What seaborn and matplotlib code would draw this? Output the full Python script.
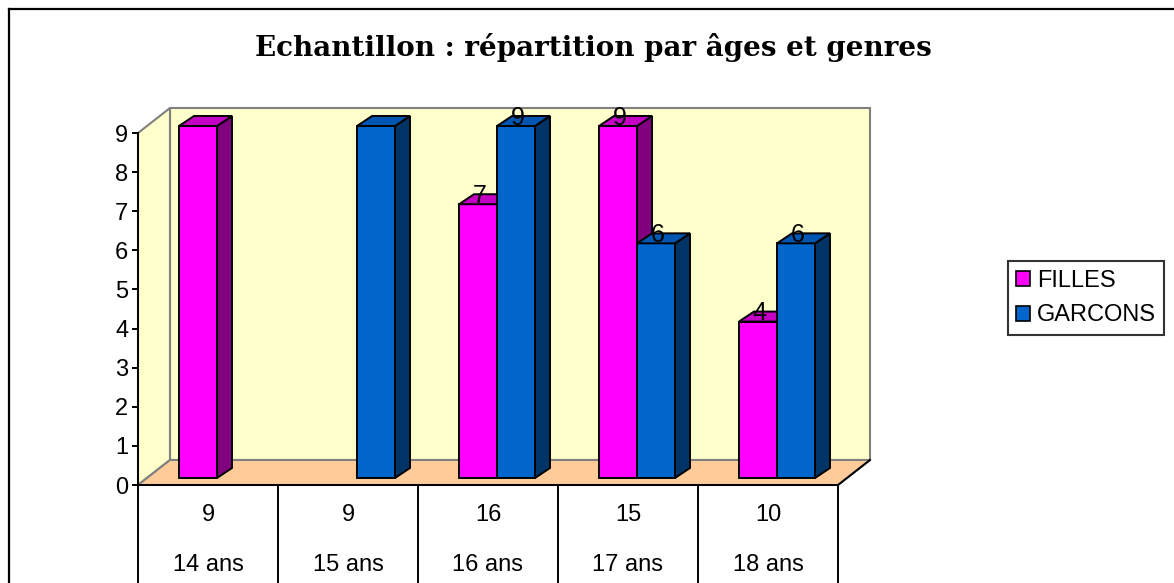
import numpy as np
import pandas as pd
import matplotlib
matplotlib.use('Agg')
import matplotlib.pyplot as plt
from matplotlib.patches import Polygon, Patch
from matplotlib.lines import Line2D
import seaborn as sns

# data
ages = ['14 ans', '15 ans', '16 ans', '17 ans', '18 ans']
genres = ['FILLES', 'GARCONS']
filles = [9, 0, 7, 9, 4]
garcons = [0, 9, 9, 6, 6]
labelled_ages = ['16 ans', '17 ans', '18 ans']   # bars that carry a value label
totals = [f + g for f, g in zip(filles, garcons)]
yticks = list(range(0, 10))

df = pd.DataFrame({
    'age': ages * 2,
    'n': filles + garcons,
    'genre': ['FILLES'] * len(ages) + ['GARCONS'] * len(ages),
})

# front / side / top colours
colors = {
    'FILLES': ('#FF00FF', '#800080', '#C400C4'),
    'GARCONS': ('#0066CC', '#003366', '#0056B0'),
}

plt.rcParams['font.family'] = ['Liberation Sans', 'DejaVu Sans']
FS = 17

W, H = 1174, 583
fig = plt.figure(figsize=(W / 100, H / 100), dpi=100)
fig.patch.set_facecolor('white')
ax = fig.add_axes([138 / W, (H - 485) / H, 700 / W, 352 / H])
ax.set_facecolor('none')

sns.barplot(data=df, x='age', y='n', hue='genre', order=ages, hue_order=genres,
            palette={g: colors[g][0] for g in genres}, width=0.543, saturation=1,
            edgecolor='black', linewidth=1.4, legend=False, ax=ax)
ax.set_xlim(-0.5, 4.5)
ax.set_ylim(0, 9)

# pseudo-3D geometry (data units)
ux, uy = 140.0, 352.0 / 9
Dx, Dy = 32 / ux, 25 / uy        # floor depth
d0x, d0y = 9 / ux, 7 / uy        # bar front offset
bx, by = 15 / ux, 10 / uy        # bar depth

wall = '#FFFFCC'
floor = '#FFCC99'
grey = '#808080'
x0, x1 = -0.5, 4.5
ax.add_patch(Polygon([(x0 + Dx, Dy), (x1 + Dx, Dy), (x1 + Dx, 9 + Dy), (x0 + Dx, 9 + Dy)],
                     closed=True, facecolor=wall, edgecolor=grey, lw=1.5, zorder=0.5, clip_on=False))
ax.add_patch(Polygon([(x0, 0), (x0 + Dx, Dy), (x0 + Dx, 9 + Dy), (x0, 9)],
                     closed=True, facecolor=wall, edgecolor=grey, lw=1.5, zorder=0.5, clip_on=False))
ax.add_patch(Polygon([(x0, 0), (x1, 0), (x1 + Dx, Dy), (x0 + Dx, Dy)],
                     closed=True, facecolor=floor, edgecolor=grey, lw=1.5, zorder=0.6, clip_on=False))
ax.plot([x1, x1 + Dx], [0, Dy], color='black', lw=1.4, zorder=0.7, clip_on=False)

for ci, cont in enumerate(ax.containers):
    g = genres[ci]
    for j, p in enumerate(cont.patches):
        h = p.get_height()
        if h == 0:
            p.set_visible(False)
            continue
        bx0 = p.get_x() + d0x
        w = p.get_width()
        p.set_x(bx0)
        p.set_y(d0y)
        z = 2 + bx0 * 0.1
        p.set_zorder(z)
        p.set_clip_on(False)
        top = d0y + h
        side = Polygon([(bx0 + w, d0y), (bx0 + w + bx, d0y + by), (bx0 + w + bx, top + by), (bx0 + w, top)],
                       closed=True, facecolor=colors[g][1], edgecolor='black', lw=1.4, zorder=z, clip_on=False)
        lid = Polygon([(bx0, top), (bx0 + w, top), (bx0 + w + bx, top + by), (bx0 + bx, top + by)],
                      closed=True, facecolor=colors[g][2], edgecolor='black', lw=1.4, zorder=z, clip_on=False)
        ax.add_patch(side)
        ax.add_patch(lid)
        if ages[j] in labelled_ages:
            ax.text(bx0 + w / 2 + 0.01, top + 0.03, f'{h:g}', ha='center', va='baseline',
                    fontsize=18, zorder=10)

# axes styling
for s in ['top', 'right']:
    ax.spines[s].set_visible(False)
for s in ['left', 'bottom']:
    ax.spines[s].set_linewidth(1.4)
    ax.spines[s].set_color('black')
    ax.spines[s].set_zorder(1)
ax.set_yticks(yticks)
ax.set_xticks([])
ax.tick_params(axis='y', direction='out', length=4, width=1.4, labelsize=FS, pad=3)
ax.set_xlabel('')
ax.set_ylabel('')

# data table under the axis
tr = ax.get_xaxis_transform()
for k in range(len(ages) + 1):
    ax.plot([k - 0.5, k - 0.5], [0, -0.3], color='black', lw=1.4, transform=tr, clip_on=False)
for i, age in enumerate(ages):
    ax.text(i, -0.085, str(totals[i]), transform=tr, ha='center', va='center', fontsize=FS)
    ax.text(i, -0.227, age, transform=tr, ha='center', va='center', fontsize=FS)

fig.text(593 / W, 1 - 48 / H, 'Echantillon : répartition par âges et genres',
         ha='center', va='center', fontsize=20, fontweight='bold', family='DejaVu Serif')

# outer frame (left and top edges visible)
fig.add_artist(Line2D([9 / W, 9 / W], [0, 1 - 9 / H], color='black', lw=1.6, transform=fig.transFigure))
fig.add_artist(Line2D([9 / W, 1], [1 - 9 / H, 1 - 9 / H], color='black', lw=1.6, transform=fig.transFigure))

handles = [Patch(facecolor=colors[g][0], edgecolor='black', linewidth=1.2) for g in genres]
leg = fig.legend(handles, genres, loc='center', bbox_to_anchor=(1086 / W, 1 - 298 / H),
                 frameon=True, fancybox=False, edgecolor='black', fontsize=FS,
                 handlelength=0.6, handleheight=0.6, handletextpad=0.3,
                 labelspacing=0.55, borderpad=0.35)
leg.get_frame().set_linewidth(1.5)

fig.savefig('out.png', dpi=100)
